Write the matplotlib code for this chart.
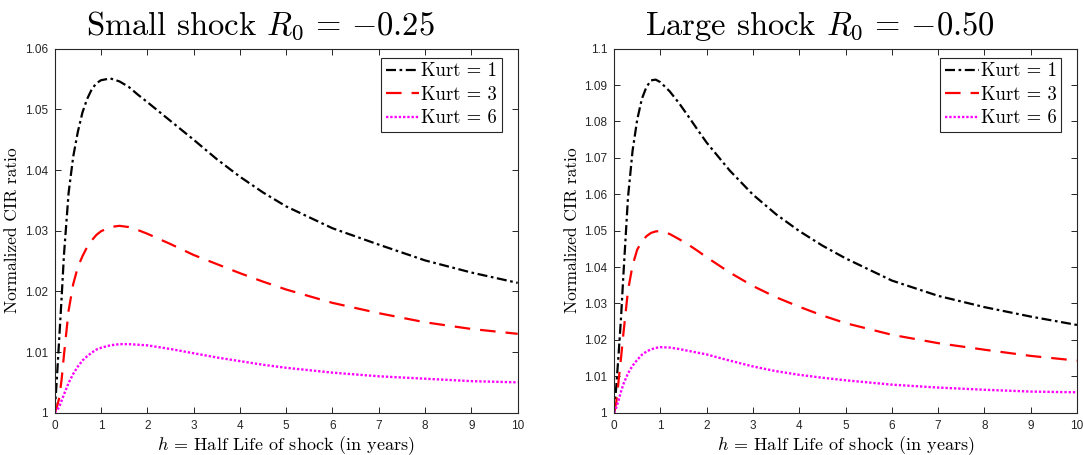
import matplotlib
matplotlib.use("Agg")
import matplotlib.pyplot as plt
from matplotlib.ticker import MultipleLocator, FormatStrFormatter

plt.rcParams['mathtext.fontset'] = 'cm'
plt.rcParams['axes.unicode_minus'] = True

# half life grid (years)
h = [0, 0.05, 0.1, 0.15, 0.2, 0.3, 0.4, 0.5, 0.6, 0.7, 0.8, 0.9, 1.0, 1.2, 1.4,
     1.6, 1.8, 2.0, 2.5, 3, 3.5, 4, 4.5, 5, 6, 7, 8, 9, 10]

# small shock R0 = -0.25
small_k1 = [1.0, 1.006, 1.0125, 1.019, 1.026, 1.0362, 1.0422, 1.0463, 1.0495, 1.0517,
            1.0533, 1.0543, 1.0548, 1.0551, 1.0546, 1.0537, 1.0524, 1.0512, 1.0481,
            1.045, 1.0418, 1.0389, 1.0363, 1.034, 1.0304, 1.0277, 1.0251, 1.0231, 1.0214]
small_k3 = [1.0, 1.001, 1.0025, 1.0055, 1.0095, 1.0168, 1.0212, 1.024, 1.0258, 1.0273,
            1.0284, 1.0293, 1.0299, 1.0306, 1.0308, 1.0306, 1.0301, 1.0295, 1.0278,
            1.026, 1.0245, 1.023, 1.0216, 1.0203, 1.0181, 1.0164, 1.0149, 1.0138, 1.013]
small_k6 = [1.0, 1.0004, 1.001, 1.002, 1.003, 1.0049, 1.0064, 1.0076, 1.0086, 1.0093,
            1.0099, 1.0104, 1.0107, 1.0111, 1.0113, 1.0113, 1.0112, 1.0111, 1.0105,
            1.0098, 1.0091, 1.0085, 1.0079, 1.0074, 1.0066, 1.006, 1.0056, 1.0052, 1.005]

# large shock R0 = -0.50
large_k1 = [1.0, 1.0075, 1.0165, 1.026, 1.0375, 1.059, 1.072, 1.0805, 1.0862, 1.0895,
            1.0913, 1.0915, 1.0908, 1.0883, 1.0851, 1.0815, 1.0778, 1.0742, 1.0665,
            1.0599, 1.0545, 1.0499, 1.0459, 1.0424, 1.0363, 1.0321, 1.029, 1.0264, 1.0241]
large_k3 = [1.0, 1.003, 1.009, 1.015, 1.0215, 1.0335, 1.0405, 1.0448, 1.047, 1.0485,
            1.0494, 1.0498, 1.0499, 1.0491, 1.0477, 1.0462, 1.0445, 1.0427, 1.0385,
            1.0348, 1.0317, 1.0291, 1.0267, 1.0246, 1.0214, 1.0191, 1.0173, 1.0156, 1.0143]
large_k6 = [1.0, 1.0015, 1.0035, 1.0058, 1.0078, 1.0108, 1.0129, 1.0145, 1.0159, 1.0168,
            1.0174, 1.0178, 1.018, 1.0179, 1.0175, 1.017, 1.0165, 1.016, 1.0143,
            1.0127, 1.0114, 1.0104, 1.0096, 1.0089, 1.0077, 1.0069, 1.0063, 1.0058, 1.0056]

labels = ['Kurt = 1', 'Kurt = 3', 'Kurt = 6']
titles = [r'Small shock $R_0 \,=\, {-0.25}$', r'Large shock $R_0 \,=\, {-0.50}$']
ylims = [(1.0, 1.06), (1.0, 1.1)]
panels = [(small_k1, small_k3, small_k6), (large_k1, large_k3, large_k6)]

axcol = '#262626'
fig = plt.figure(figsize=(10.83, 4.55), dpi=100)
lefts = [0.0505, 0.567]

for i in range(2):
    ax = fig.add_axes([lefts[i], 0.093, 0.4275, 0.8])
    k1, k3, k6 = panels[i]
    ax.plot(h, k1, color='black', lw=1.6, dashes=(4.5, 1.6, 1.2, 1.6), label=labels[0])
    ax.plot(h, k3, color='red', lw=1.6, dashes=(7, 4.5), label=labels[1])
    ax.plot(h, k6, color='magenta', lw=1.7, dashes=(1, 0.8), label=labels[2])

    ax.set_xlim(0, 10)
    ax.set_ylim(*ylims[i])
    ax.xaxis.set_major_locator(MultipleLocator(1))
    ax.yaxis.set_major_locator(MultipleLocator(0.01))
    ax.yaxis.set_major_formatter(FormatStrFormatter('%g'))
    ax.tick_params(direction='in', top=True, right=True, length=4, width=0.7,
                   colors=axcol, labelsize=8.5, pad=5)
    for lab in ax.get_xticklabels() + ax.get_yticklabels():
        lab.set_family('Liberation Sans')
    for s in ax.spines.values():
        s.set_color(axcol)
        s.set_linewidth(0.8)

    ax.set_title(titles[i], family='cmr10', fontsize=23.5, pad=10, x=0.445)
    ax.set_xlabel(r'$h$ = Half Life of shock (in years)', family='cmr10', fontsize=13, labelpad=2)
    ax.set_ylabel('Normalized CIR ratio', family='cmr10', fontsize=12.5, labelpad=3)

    leg = ax.legend(loc='upper right', bbox_to_anchor=(0.966, 0.975),
                    prop={'family': 'cmr10', 'size': 13.5},
                    fancybox=False, framealpha=1, edgecolor=axcol, borderpad=0.25,
                    labelspacing=0.3, handlelength=1.8, handletextpad=0.1,
                    borderaxespad=0)
    leg.get_frame().set_linewidth(0.8)

fig.savefig('out.png', dpi=100)
